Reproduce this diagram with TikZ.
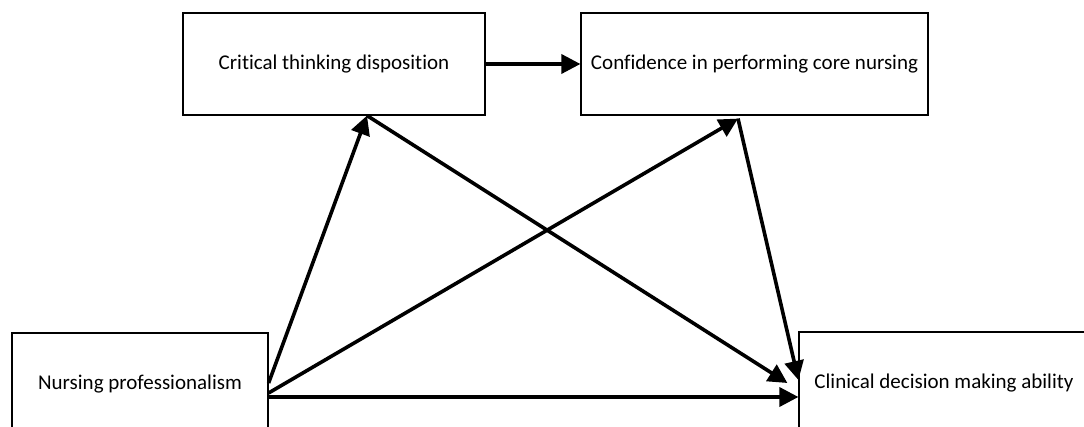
\documentclass[tikz,border=0pt]{standalone}
\usepackage{fontspec}
\setmainfont{Carlito}[Ligatures=NoCommon]
\usetikzlibrary{arrows.meta}
\begin{document}
\begin{tikzpicture}[x=1pt,y=1pt,
  boxnode/.style={draw=black,line width=1.2pt,rectangle,inner sep=0pt,
    font=\fontsize{21}{25}\selectfont,text=black},
  conn/.style={line width=3.6pt,-{Triangle[length=19pt,width=19pt]}}]
\useasboundingbox (0,0) rectangle (1084,427);
\clip (0,0) rectangle (1084,427);
\node[boxnode,minimum width=302pt,minimum height=102pt] (ctd) at (334,363) {Critical thinking disposition};
\node[boxnode,minimum width=347pt,minimum height=102pt] (conf) at (754.5,363) {Confidence in performing core nursing};
\node[boxnode,minimum width=256pt,minimum height=102pt] (np) at (140,43) {Nursing professionalism};
\node[boxnode,minimum width=290pt,minimum height=102pt] (cdm) at (944,44) {Clinical decision making ability};
\draw[conn] (ctd.east) -- (conf.west);
\draw[conn] ([yshift=1pt]np.east) -- ([xshift=33pt]ctd.south);
\draw[conn] ([yshift=-9pt]np.east) -- ([xshift=-16.5pt,yshift=-3pt]conf.south);
\draw[conn] ([yshift=-13pt]np.east) -- ([yshift=-14pt]cdm.west);
\draw[conn] ([xshift=33pt]ctd.south) -- ([xshift=-11pt]cdm.west);
\draw[conn] ([xshift=-16.5pt,yshift=-3pt]conf.south) -- ([yshift=3pt]cdm.west);
\end{tikzpicture}
\end{document}
